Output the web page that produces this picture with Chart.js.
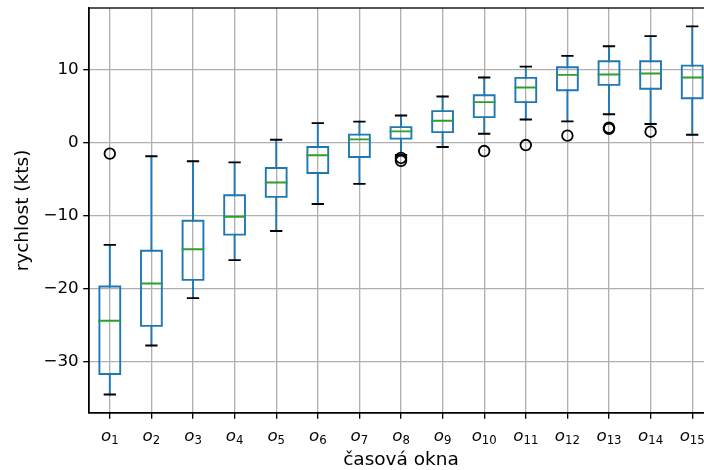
<!DOCTYPE html>
<html>
<head>
<meta charset="utf-8">
<script src="https://cdn.jsdelivr.net/npm/chart.js@4.4.0/dist/chart.umd.min.js"></script>
<style>
  html, body { margin: 0; padding: 0; overflow: hidden; background: #fff; }
  canvas { display: block; }
</style>
</head>
<body>
<canvas id="boxChart" width="730" height="470"></canvas>
<script>
// časová okna o1..o15 (index se kreslí jako dolní index)
const okna = ["1", "2", "3", "4", "5", "6", "7", "8", "9", "10", "11", "12", "13", "14", "15"];

const dolniVous = [-34.5, -27.8, -21.3, -16.1, -12.1, -8.4, -5.65, -1.7, -0.6, 1.23, 3.18, 2.91, 3.9, 2.55, 1.09];
const kvartil1 = [-31.7, -25.1, -18.8, -12.6, -7.43, -4.15, -1.97, 0.55, 1.45, 3.5, 5.55, 7.19, 7.92, 7.38, 6.09];
const medianRychl = [-24.4, -19.3, -14.6, -10.15, -5.46, -1.73, 0.45, 1.54, 3.0, 5.55, 7.55, 9.29, 9.33, 9.47, 8.92];
const kvartil3 = [-19.7, -14.8, -10.7, -7.2, -3.47, -0.6, 1.1, 2.13, 4.32, 6.5, 8.88, 10.33, 11.15, 11.15, 10.56];
const horniVous = [-14.0, -1.87, -2.55, -2.7, 0.4, 2.68, 2.88, 3.73, 6.33, 8.92, 10.42, 11.89, 13.2, 14.6, 15.93];
const odlehle = [[-1.5], [], [], [], [], [], [], [-2.1, -2.5], [], [-1.15], [-0.33], [0.96], [1.9, 2.05], [1.5], []];

const yTicks = [-30, -20, -10, 0, 10];

const FONT = "DejaVu Sans";
const PX = 16.7;
const PX_TITUL = 18.5;
const MODRA = "#1f77b4";
const ZELENA = "#2ca02c";
const LW = 1.9;

const pozice = okna.map((_, i) => i + 1);

const boxy = [], vousy = [], cepicky = [], mediany = [], body = [];
pozice.forEach((x, i) => {
  const a = x - 0.25, b = x + 0.25;
  boxy.push(
    { x: a, y: kvartil1[i] }, { x: b, y: kvartil1[i] },
    { x: b, y: kvartil3[i] }, { x: a, y: kvartil3[i] },
    { x: a, y: kvartil1[i] }, { x: x, y: null }
  );
  vousy.push(
    { x: x, y: kvartil1[i] }, { x: x, y: dolniVous[i] }, { x: x, y: null },
    { x: x, y: kvartil3[i] }, { x: x, y: horniVous[i] }, { x: x, y: null }
  );
  cepicky.push(
    { x: x - 0.125, y: dolniVous[i] }, { x: x + 0.125, y: dolniVous[i] }, { x: x, y: null },
    { x: x - 0.125, y: horniVous[i] }, { x: x + 0.125, y: horniVous[i] }, { x: x, y: null }
  );
  mediany.push({ x: a, y: medianRychl[i] }, { x: b, y: medianRychl[i] }, { x: x, y: null });
  odlehle[i].forEach(v => body.push({ x: x, y: v }));
});

function cara(data, color, order) {
  return {
    data: data,
    showLine: true,
    borderColor: color,
    borderWidth: LW,
    borderCapStyle: "square",
    borderJoinStyle: "miter",
    pointRadius: 0,
    spanGaps: false,
    order: order,
  };
}

// popisky o_i s dolním indexem + horní rámeček
const popiskyOken = {
  id: "popiskyOken",
  afterDraw(chart) {
    const { ctx, scales: { x }, chartArea } = chart;
    ctx.save();
    ctx.fillStyle = "#000";
    ctx.textBaseline = "alphabetic";
    ctx.textAlign = "left";
    x.ticks.forEach((t, i) => {
      const px = x.getPixelForValue(t.value);
      ctx.font = "italic " + PX + "px '" + FONT + "'";
      const wo = ctx.measureText("o").width;
      ctx.font = (PX * 0.7).toFixed(1) + "px '" + FONT + "'";
      const ws = ctx.measureText(okna[i]).width;
      const x0 = px - (wo + ws) / 2;
      ctx.font = "italic " + PX + "px '" + FONT + "'";
      ctx.fillText("o", x0, chartArea.bottom + 28);
      ctx.font = (PX * 0.7).toFixed(1) + "px '" + FONT + "'";
      ctx.fillText(okna[i], x0 + wo, chartArea.bottom + 30.5);
    });
    ctx.restore();
  },
  afterDatasetsDraw(chart) {
    const { ctx, chartArea } = chart;
    ctx.save();
    ctx.strokeStyle = "#000";
    ctx.lineWidth = 1.33;
    ctx.strokeRect(chartArea.left, chartArea.top, chartArea.right - chartArea.left, chartArea.bottom - chartArea.top);
    ctx.restore();
  },
};

const ctx = document.getElementById("boxChart").getContext("2d");

new Chart(ctx, {
  type: "scatter",
  data: {
    datasets: [
      cara(vousy, MODRA, 5),
      cara(cepicky, "#000", 4),
      cara(boxy, MODRA, 3),
      cara(mediany, ZELENA, 2),
      {
        data: body,
        pointStyle: "circle",
        pointRadius: 5.3,
        pointBorderColor: "#000",
        pointBackgroundColor: "rgba(0,0,0,0)",
        pointBorderWidth: 1.8,
        order: 1,
      },
    ],
  },
  options: {
    responsive: false,
    animation: false,
    events: [],
    layout: { padding: { left: 0, top: 8, right: 17, bottom: 0 } },
    plugins: {
      legend: { display: false },
      tooltip: { enabled: false },
    },
    scales: {
      x: {
        type: "linear",
        min: 0.5,
        max: 15.5,
        afterBuildTicks: s => { s.ticks = pozice.map(v => ({ value: v })); },
        afterFit: s => { s.height = 57; s.paddingLeft = 0; s.paddingRight = 0; },
        grid: { color: "#b0b0b0", lineWidth: 1.33, tickColor: "#000", tickLength: 5.8, tickWidth: 1.33 },
        border: { color: "#000", width: 1.33 },
        ticks: { display: false },
        title: {
          display: true,
          text: "časová okna",
          color: "#000",
          font: { family: FONT, size: PX_TITUL, lineHeight: 1 },
          padding: { top: 0, bottom: 1 },
        },
      },
      y: {
        min: -37.04,
        max: 18.45,
        afterBuildTicks: s => { s.ticks = yTicks.map(v => ({ value: v })); },
        afterFit: s => { s.width = 89; s.paddingTop = 0; s.paddingBottom = 0; },
        grid: { color: "#b0b0b0", lineWidth: 1.33, tickColor: "#000", tickLength: 5.8, tickWidth: 1.33 },
        border: { color: "#000", width: 1.33 },
        ticks: {
          color: "#000",
          padding: 4.5,
          font: { family: FONT, size: PX },
          callback: v => (v < 0 ? "\u2212" + Math.abs(v) : String(v)),
        },
        title: {
          display: true,
          text: "rychlost (kts)",
          color: "#000",
          font: { family: FONT, size: PX_TITUL },
          padding: { top: 12, bottom: 0 },
        },
      },
    },
  },
  plugins: [popiskyOken],
});
</script>
</body>
</html>
